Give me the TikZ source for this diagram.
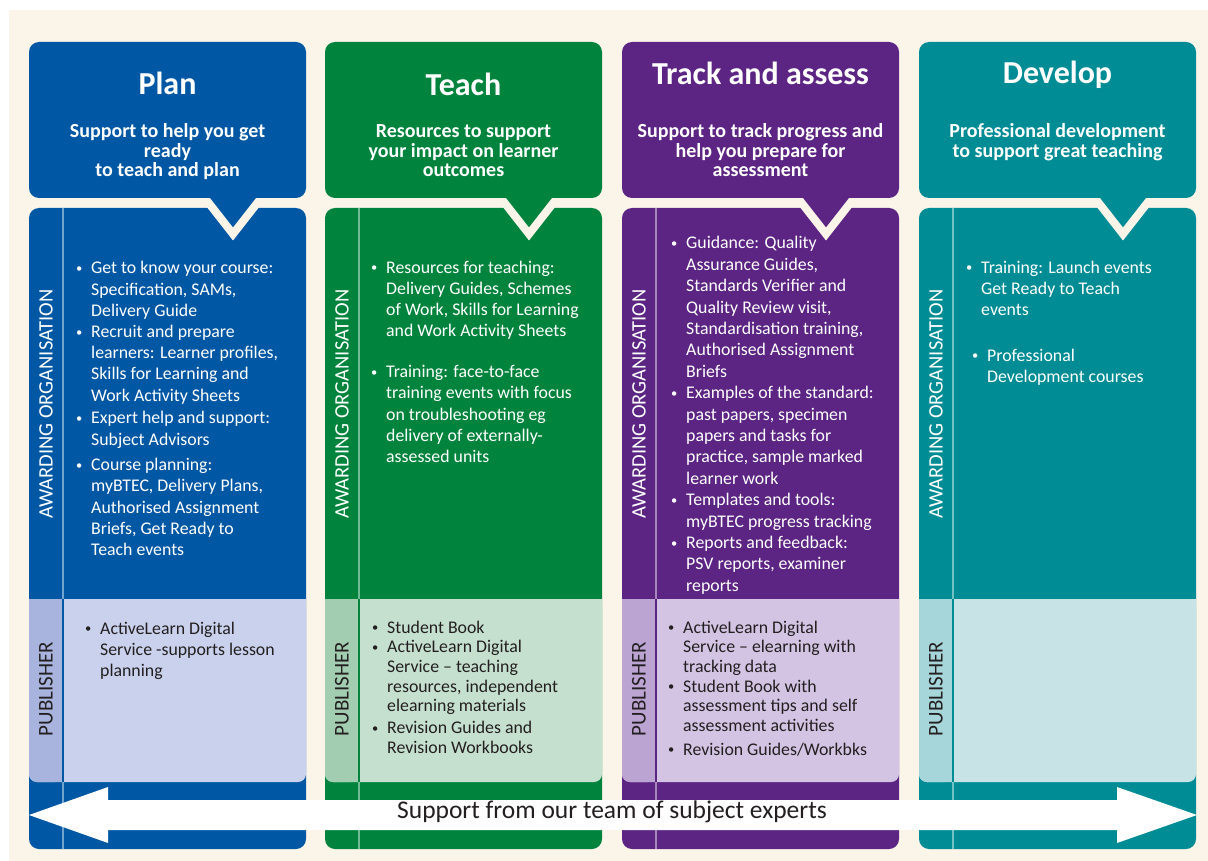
\documentclass[tikz,border=0pt]{standalone}
\usepackage{fontspec}
\setmainfont{Carlito}
\definecolor{cream}{HTML}{FAF4E9}
\definecolor{planC}{HTML}{0057A3}
\definecolor{planP}{HTML}{C9D1EC}
\definecolor{planS}{HTML}{A8B4DE}
\definecolor{teachC}{HTML}{00843D}
\definecolor{teachP}{HTML}{C6E0CF}
\definecolor{teachS}{HTML}{A2CDB0}
\definecolor{trackC}{HTML}{5C2583}
\definecolor{trackP}{HTML}{D3C4E3}
\definecolor{trackS}{HTML}{BBA3D2}
\definecolor{devC}{HTML}{008C95}
\definecolor{devP}{HTML}{C8E3E6}
\definecolor{devS}{HTML}{A6D5DA}
\definecolor{darktext}{HTML}{231F20}
\newcommand\drawcolumn[4]{%
  \fill[#2,rounded corners=10pt] (#1,208) rectangle (#1+277,849);
  \draw[#2!55!white,line width=1.5pt] (#1+34,208) -- (#1+34,849);
  \fill[#3,rounded corners=8pt] (#1,599) rectangle (#1+277,782);
  \fill[#3] (#1,599) rectangle (#1+277,760);
  \fill[#4,rounded corners=8pt] (#1,599) rectangle (#1+34,782);
  \fill[#4] (#1,599) rectangle (#1+34,760);
  \fill[#4] (#1+20,599) rectangle (#1+34,782);
  \draw[#2,line width=1.5pt] (#1+34,599) -- (#1+34,782);
  \filldraw[fill=#2,draw=cream,line width=8pt,line join=miter] (#1+168,188) -- (#1+204,234) -- (#1+240,188) -- cycle;
  \fill[#2,rounded corners=10pt] (#1,42) rectangle (#1+277,198);
}
\newcommand\bl{\leavevmode\llap{\makebox[15pt][l]{\raisebox{1.5pt}{\scalebox{0.7}{\textbullet}}}}}
\newcommand\ptext[2]{\parbox[t]{#1}{\lineskiplimit=-100pt\lineskip=0pt\raggedright #2}}
\newcommand\ctext[2]{\parbox[t]{#1}{\lineskiplimit=-100pt\lineskip=0pt\centering #2}}
\tikzset{
  title/.style={anchor=base,inner sep=0pt,text=white,font=\bfseries\fontsize{32}{36}\selectfont},
  subtitle/.style={anchor=base,inner sep=0pt,text=white,font=\bfseries\fontsize{20}{19.5}\selectfont},
  aotext/.style={anchor=base west,inner sep=0pt,text=white,font=\fontsize{17.8}{21.2}\selectfont},
  pubtext/.style={anchor=base west,inner sep=0pt,text=darktext,font=\fontsize{17.8}{19.7}\selectfont},
  aolabel/.style={rotate=90,inner sep=0pt,text=white,font=\fontsize{20.5}{24}\selectfont},
  publabel/.style={rotate=90,inner sep=0pt,text=darktext,font=\fontsize{21}{24}\selectfont},
}
\begin{document}
\begin{tikzpicture}[x=1pt,y=-1pt]
\useasboundingbox (0,0) rectangle (1208,861);
\fill[white] (0,0) rectangle (1208,861);
\fill[cream] (9,10) rectangle (1208,861);

\drawcolumn{29}{planC}{planP}{planS}
\drawcolumn{325}{teachC}{teachP}{teachS}
\drawcolumn{622}{trackC}{trackP}{trackS}
\drawcolumn{919}{devC}{devP}{devS}

% titles
\node[title] (plan-title) at (167.5,95) {Plan};
\node[title] (teach-title) at (463.5,96) {Teach};
\node[title] (track-title) at (760.5,85) {Track and assess};
\node[title] (dev-title) at (1057.5,84) {Develop};

% subtitles
\node[subtitle] (plan-sub) at (167.5,138) {\ctext{270pt}{Support to help you get\\ready\\to teach and plan}};
\node[subtitle] (teach-sub) at (463.5,138) {\ctext{270pt}{Resources to support\\your impact on learner\\outcomes}};
\node[subtitle] (track-sub) at (760.5,138) {\ctext{270pt}{Support to track progress and\\help you prepare for\\assessment}};
\node[subtitle] (dev-sub) at (1057.5,138) {\ctext{270pt}{Professional development\\to support great teaching}};

% vertical labels
\node[aolabel] (plan-ao-lab) at (46,404) {AWARDING ORGANISATION};
\node[aolabel] (teach-ao-lab) at (342,404) {AWARDING ORGANISATION};
\node[aolabel] (track-ao-lab) at (639,404) {AWARDING ORGANISATION};
\node[aolabel] (dev-ao-lab) at (936,404) {AWARDING ORGANISATION};
\node[publabel] (plan-pub-lab) at (46,689) {PUBLISHER};
\node[publabel] (teach-pub-lab) at (342,689) {PUBLISHER};
\node[publabel] (track-pub-lab) at (639,689) {PUBLISHER};
\node[publabel] (dev-pub-lab) at (936,689) {PUBLISHER};

% awarding organisation texts
\node[aotext] (plan-ao) at (91,274) {\ptext{215pt}{\bl Get to know your course:\\Specification, SAMs,\\Delivery Guide\\\bl Recruit and prepare\\learners: Learner profiles,\\Skills for Learning and\\Work Activity Sheets\\[1.5pt]\bl Expert help and support:\\Subject Advisors\\[4.5pt]\bl Course planning:\\myBTEC, Delivery Plans,\\Authorised Assignment\\Briefs, Get Ready to\\Teach events}};

\node[aotext] (teach-ao) at (386,273) {\ptext{215pt}{\bl Resources for teaching:\\Delivery Guides, Schemes\\of Work, Skills for Learning\\and Work Activity Sheets\\[20pt]\bl Training: face-to-face\\training events with focus\\on troubleshooting eg\\delivery of externally-\\assessed units}};

\node[aotext,font=\fontsize{17.8}{21.4}\selectfont] (track-ao) at (686,249) {\ptext{215pt}{\bl Guidance: Quality\\Assurance Guides,\\Standards Verifier and\\Quality Review visit,\\Standardisation training,\\Authorised Assignment\\Briefs\\\bl Examples of the standard:\\past papers, specimen\\papers and tasks for\\practice, sample marked\\learner work\\\bl Templates and tools:\\myBTEC progress tracking\\\bl Reports and feedback:\\PSV reports, examiner\\reports}};

\node[aotext] (dev-ao-1) at (981,273) {\ptext{215pt}{\bl Training: Launch events\\Get Ready to Teach\\events}};
\node[aotext] (dev-ao-2) at (987,361) {\ptext{215pt}{\bl Professional\\Development courses}};

% publisher texts
\node[pubtext,font=\fontsize{17.8}{21}\selectfont] (plan-pub) at (100,634) {\ptext{200pt}{\bl ActiveLearn Digital\\Service -supports lesson\\planning}};
\node[pubtext] (teach-pub) at (387,633) {\ptext{210pt}{\bl Student Book\\\bl ActiveLearn Digital\\Service -- teaching\\resources, independent\\elearning materials\\[2pt]\bl Revision Guides and\\Revision Workbooks}};
\node[pubtext] (track-pub) at (683,633) {\ptext{210pt}{\bl ActiveLearn Digital\\Service -- elearning with\\tracking data\\\bl Student Book with\\assessment tips and self\\assessment activities\\[4pt]\bl Revision Guides/Workbks}};

% arrow
\fill[white] (29,815) -- (108,787) -- (108,800) -- (1117,800) -- (1117,787) -- (1197,815) -- (1117,843) -- (1117,830) -- (108,830) -- (108,843) -- cycle;
\node[inner sep=0pt,text=darktext,font=\fontsize{25.5}{30}\selectfont] (arrow-label) at (612,812) {Support from our team of subject experts};
\end{tikzpicture}
\end{document}
